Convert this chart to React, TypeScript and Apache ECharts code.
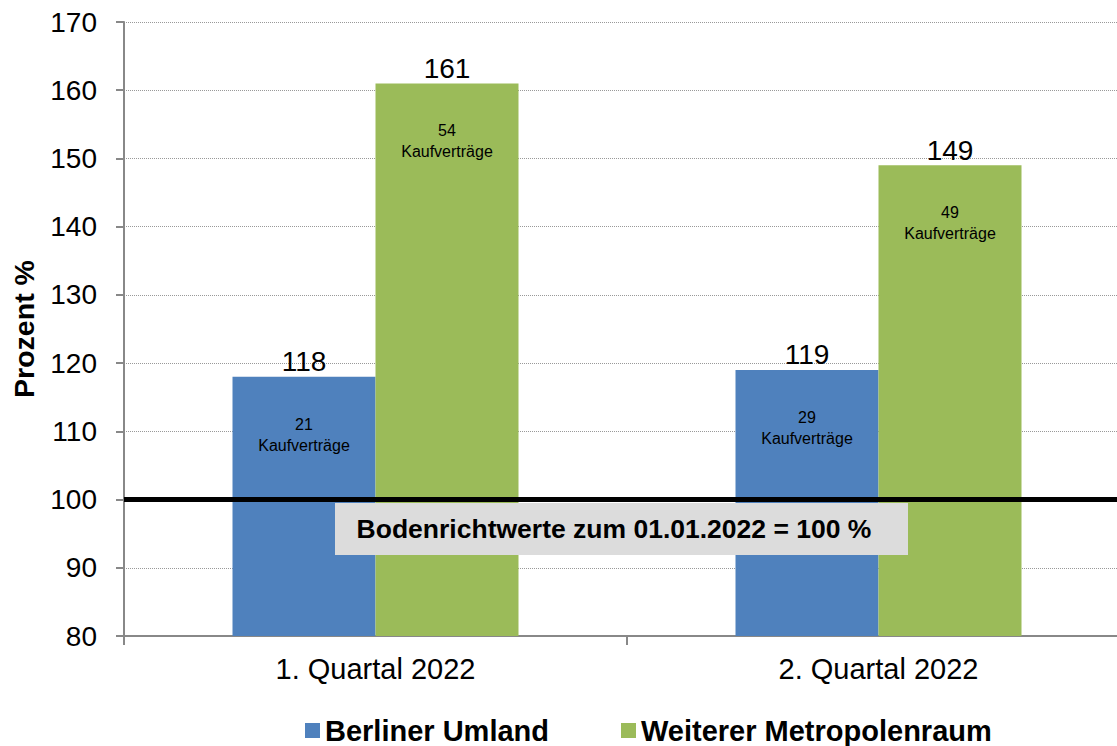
import React, { useEffect, useRef } from "react";
import * as echarts from "echarts";

const categories = ["1. Quartal 2022", "2. Quartal 2022"];
const seriesNames = ["Berliner Umland", "Weiterer Metropolenraum"];
const berlinerUmland = [118, 119];
const weitererMetropolenraum = [161, 149];
const vertraegeUmland = [21, 29];
const vertraegeMetropolenraum = [54, 49];
const yTicks = { min: 80, max: 170, interval: 10 };
const referenceValue = 100;
const referenceText = "Bodenrichtwerte zum 01.01.2022 = 100 %";

const FONT = "'Liberation Sans', Arial, Helvetica, sans-serif";

function makeData(values: number[], counts: number[]) {
  return values.map((v, i) => ({
    value: v,
    label: {
      formatter: `{v|${v}}\n{c|${counts[i]}}\n{c|Kaufverträge}`,
    },
  }));
}

const barLabel = {
  show: true,
  position: "insideTop",
  offset: [0, -72],
  align: "center",
  fontFamily: FONT,
  rich: {
    v: { fontSize: 28, lineHeight: 104, color: "#000", fontFamily: FONT, align: "center" },
    c: { fontSize: 16, lineHeight: 21, color: "#000", fontFamily: FONT, align: "center" },
  },
};

export default function App() {
  const ref = useRef<HTMLDivElement>(null);
  useEffect(() => {
    if (!ref.current) return;
    const chart = echarts.init(ref.current, undefined, { renderer: "svg" });
    chart.setOption({
      animation: false,
      backgroundColor: "#fff",
      textStyle: { fontFamily: FONT },
      grid: {
        left: 124,
        top: 22,
        width: 1006,
        height: 614,
        outerBoundsMode: "none",
        containLabel: false,
      },
      legend: {
        left: 305,
        top: 716,
        padding: 0,
        itemWidth: 15,
        itemHeight: 15,
        itemGap: 72,
        icon: "rect",
        textStyle: { fontSize: 29, fontWeight: "bold", color: "#000", fontFamily: FONT },
        data: seriesNames,
      },
      xAxis: {
        type: "category",
        data: categories,
        axisLine: { lineStyle: { color: "#888", width: 2 } },
        axisTick: { show: true, length: 9, lineStyle: { color: "#888", width: 2 } },
        axisLabel: { fontSize: 29, color: "#000", margin: 18, fontFamily: FONT },
      },
      yAxis: {
        type: "value",
        min: yTicks.min,
        max: yTicks.max,
        interval: yTicks.interval,
        name: "Prozent %",
        nameLocation: "middle",
        nameGap: 86,
        nameTextStyle: { fontSize: 28.5, fontWeight: "bold", color: "#000", fontFamily: FONT },
        axisLine: { show: true, lineStyle: { color: "#888", width: 2 } },
        axisTick: { show: true, length: 8, lineStyle: { color: "#888", width: 2 } },
        axisLabel: { fontSize: 28, color: "#000", margin: 27, fontFamily: FONT },
        splitLine: { show: true, lineStyle: { color: "#999", type: "dotted", width: 1 } },
      },
      series: [
        {
          name: seriesNames[0],
          type: "bar",
          barWidth: 143,
          barGap: "0%",
          itemStyle: { color: "#4F81BD" },
          label: barLabel,
          data: makeData(berlinerUmland, vertraegeUmland),
        },
        {
          name: seriesNames[1],
          type: "bar",
          barWidth: 143,
          barGap: "0%",
          itemStyle: { color: "#9BBB59" },
          label: barLabel,
          data: makeData(weitererMetropolenraum, vertraegeMetropolenraum),
          markLine: {
            silent: true,
            symbol: ["none", "none"],
            z: 10,
            label: { show: false },
            lineStyle: {
              color: "#000",
              width: 5,
              type: "solid",
            },
            data: [{ yAxis: referenceValue }],
          },
        },
      ],
      graphic: [
        {
          type: "rect",
          z: 100,
          shape: { x: 335, y: 503, width: 573, height: 52 },
          style: { fill: "#dcdcdc" },
        },
        {
          type: "text",
          z: 101,
          x: 614,
          y: 529,
          style: {
            text: referenceText,
            fontSize: 26.5,
            fontWeight: "bold",
            fontFamily: FONT,
            fill: "#000",
            align: "center",
            verticalAlign: "middle",
          },
        },
      ],
    });
    return () => chart.dispose();
  }, []);
  return (
    <div
      ref={ref}
      style={{ position: "absolute", left: 0, top: 0, width: 1117, height: 746 }}
    />
  );
}
